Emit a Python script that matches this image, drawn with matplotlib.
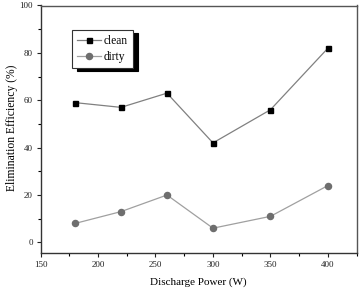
import matplotlib
matplotlib.use("Agg")
import matplotlib.pyplot as plt
from matplotlib.ticker import MultipleLocator

plt.rcParams['font.family'] = ['Liberation Serif', 'DejaVu Serif']

power = [180, 220, 260, 300, 350, 400]
clean = [59, 57, 63, 42, 56, 82]
dirty = [8, 13, 20, 6, 11, 24]
xticks = [150, 200, 250, 300, 350, 400]
yticks = [0, 20, 40, 60, 80, 100]

fig = plt.figure(figsize=(3.62, 2.88), dpi=100)
ax = fig.add_axes([40.5/362, 1-253.3/288, (356.7-40.5)/362, (253.3-5.5)/288])

ax.plot(power, clean, color='#808080', lw=0.9, marker='s', ms=3.6,
        mfc='black', mec='black', label='clean')
ax.plot(power, dirty, color='#a0a0a0', lw=0.9, marker='o', ms=4.4,
        mfc='#6e6e6e', mec='#6e6e6e', label='dirty')

ax.set_xlim(150, 425)
ax.set_ylim(-4.6, 100)
ax.set_xticks(xticks)
ax.set_yticks(yticks)
ax.xaxis.set_minor_locator(MultipleLocator(25))
ax.yaxis.set_minor_locator(MultipleLocator(10))
ax.tick_params(axis='both', which='major', direction='out', length=3, width=0.8,
               labelsize=6.5, colors='#222222', pad=2.5)
ax.tick_params(axis='both', which='minor', direction='out', length=2, width=0.8)
for s in ax.spines.values():
    s.set_color('#555555')
    s.set_linewidth(1.0)
ax.spines['left'].set_color('#333333')
ax.spines['bottom'].set_color('#333333')

ax.set_xlabel('Discharge Power (W)', fontsize=8)
ax.set_ylabel('Elimination Efficiency (%)', fontsize=8.4)
ax.xaxis.set_label_coords((198-40.5)/316.2, -(281.7-253.3)/247.8, transform=ax.transAxes)
ax.yaxis.set_label_coords(-(40.5-12)/316.2, (253.3-128)/247.8, transform=ax.transAxes)
ax.xaxis.label.set_va('center')
ax.yaxis.label.set_va('center')

leg = ax.legend(loc='upper left', bbox_to_anchor=((72.3-40.5)/316.2, 1-(30-5.5)/247.8),
                fontsize=8.3, frameon=True, fancybox=False, handlelength=2.0,
                handletextpad=0.3, borderpad=0.45, labelspacing=0.3,
                borderaxespad=0,
                shadow={'color': 'black', 'alpha': 1.0, 'ox': 3.5, 'oy': -2.2})
leg.get_frame().set_edgecolor('#333333')
leg.get_frame().set_linewidth(0.8)

fig.savefig('out.png', dpi=100)
